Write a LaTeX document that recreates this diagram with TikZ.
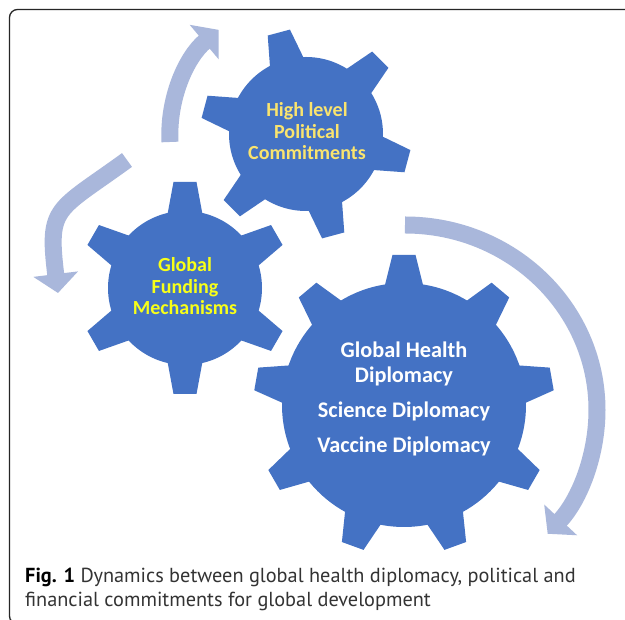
\documentclass[tikz,border=0pt]{standalone}
\usepackage{fontspec}
\setmainfont{PT Sans}
\newfontfamily\calibri{Carlito}
\usepackage{xcolor}
\usetikzlibrary{arrows.meta,positioning}

\definecolor{gearblue}{RGB}{68,114,196}
\definecolor{cyclearrow}{RGB}{169,183,219}
\definecolor{politext}{RGB}{250,228,110}
\definecolor{fundtext}{RGB}{248,255,24}
\definecolor{captext}{RGB}{51,51,51}

% gear: centre, body radius, tip radius, number of teeth, first tooth angle, half width at the base
\newcommand{\gear}[6]{%
  \fill[gearblue] (#1) circle (#2);
  \foreach \k in {1,...,#4}
    \fill[gearblue, shift={(#1)}, rotate={#5+360*(\k-1)/#4}] (#2-6,-#6) -- (#3,-11.5) -- (#3,11.5) -- (#2-6,#6) -- cycle;
}

\tikzset{
  cyclearrowline/.style={draw=cyclearrow, line width=17pt, -{Triangle[length=19pt, width=44pt]}},
  geartext/.style={font=\calibri\bfseries\fontsize{20}{21.7}\selectfont, align=center, anchor=base, inner sep=0pt},
}

\begin{document}
\begin{tikzpicture}[x=1pt, y=1pt]
    \useasboundingbox (0,0) rectangle (625,620);
    \clip (0,0) rectangle (625,620);
    \fill[white] (0,0) rectangle (625,620);
    \draw[black!85, line width=1.3pt, rounded corners=8pt] (9.5,610.5) rectangle (660,-4); % frame of the figure
    % arrows of the cycle
    \coordinate (polstart) at (170,478); % below the top left arrow
    \coordinate (fundstart) at (127,460); % start of the left arrow
    \coordinate (fundtip) at (58,327); % tip of the left arrow
    \coordinate (dipstart) at (405,395); % start of the big arrow
    \draw[cyclearrowline] (polstart) arc[start angle=183, end angle=130, radius=137];
    \draw[cyclearrowline] (fundstart) to[out=216, in=97, looseness=1.5] (fundtip);
    \draw[cyclearrowline] (dipstart) arc[start angle=90, end angle=-42, x radius=192, y radius=185];
    % the three gears
    \gear{306,486}{77}{105}{6}{45}{18}  % political commitments
    \gear{185,332}{77}{106}{6}{90}{18}  % funding mechanisms
    \gear{404,215}{122}{150}{9}{90}{20} % diplomacy
    % base of a text node is the baseline of its last line
    \node[geartext, text=politext] (polit) at (307,460) {High level\\Political\\Commitments};
    \node[geartext, text=fundtext] (fund) at (185,305) {Global\\Funding\\Mechanisms};
    \node[geartext, text=white, font=\calibri\bfseries\fontsize{22.3}{25}\selectfont] (dipl) at (404,167)
        {Global Health\\Diplomacy\\[10pt]Science Diplomacy\\[10pt]Vaccine Diplomacy};
    % caption
    \node[anchor=base west, align=left, inner sep=0pt, text=captext, font=\fontsize{20.3}{24}\selectfont] (cap) at (25,13)
        {{\color{black}\bfseries Fig. 1} Dynamics between global health diplomacy, political and\\financial commitments for global development};
\end{tikzpicture}
\end{document}
